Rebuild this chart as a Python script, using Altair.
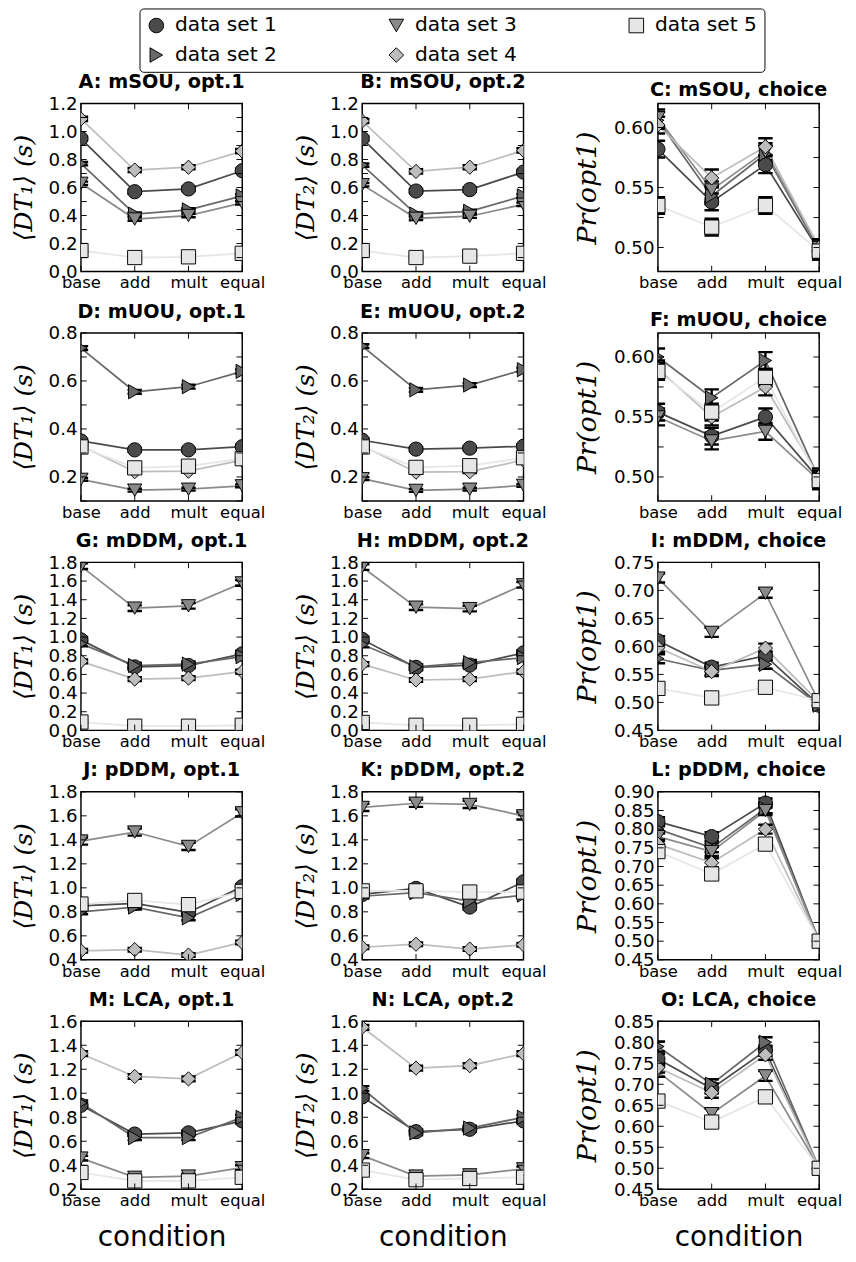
import altair as alt
import pandas as pd

conds = ["base", "add", "mult", "equal"]
series = ["data set 1", "data set 2", "data set 3", "data set 4", "data set 5"]
legend_order = ["data set 1", "data set 3", "data set 5", "data set 2", "data set 4"]
fill_of = {"data set 1": "#4a4a4a", "data set 2": "#686868", "data set 3": "#8a8a8a",
           "data set 4": "#bdbdbd", "data set 5": "#e6e6e6"}
shape_of = {"data set 1": "circle", "data set 2": "triangle-right", "data set 3": "triangle-down",
            "data set 4": "diamond", "data set 5": "square"}

# ---- values: each panel = 5 series (data set 1..5) x 4 conditions ----
A_mean = [[0.95, 0.57, 0.59, 0.72], [0.77, 0.41, 0.44, 0.54], [0.63, 0.375, 0.40, 0.49],
          [1.09, 0.725, 0.745, 0.86], [0.15, 0.10, 0.105, 0.13]]
A_err = [0.015, 0.012, 0.012, 0.015, 0.01]
B_mean = [[0.95, 0.575, 0.585, 0.71], [0.76, 0.41, 0.43, 0.54], [0.62, 0.38, 0.395, 0.48],
          [1.075, 0.715, 0.745, 0.865], [0.15, 0.10, 0.11, 0.13]]
B_err = [0.015, 0.012, 0.012, 0.015, 0.01]
C_mean = [[0.582, 0.538, 0.569, 0.497], [0.606, 0.543, 0.578, 0.498], [0.608, 0.548, 0.580, 0.500],
          [0.602, 0.558, 0.584, 0.500], [0.535, 0.517, 0.535, 0.497]]
C_err = [0.007, 0.007, 0.007, 0.007, 0.007]
D_mean = [[0.35, 0.313, 0.313, 0.326], [0.737, 0.555, 0.576, 0.64], [0.19, 0.145, 0.149, 0.163],
          [0.33, 0.222, 0.224, 0.27], [0.325, 0.238, 0.245, 0.276]]
D_err = [0.008, 0.008, 0.006, 0.006, 0.006]
E_mean = [[0.353, 0.316, 0.32, 0.328], [0.745, 0.563, 0.583, 0.647], [0.193, 0.144, 0.149, 0.165],
          [0.33, 0.22, 0.222, 0.27], [0.325, 0.24, 0.247, 0.28]]
E_err = [0.008, 0.008, 0.006, 0.006, 0.006]
F_mean = [[0.554, 0.534, 0.550, 0.498], [0.600, 0.566, 0.597, 0.498], [0.550, 0.530, 0.538, 0.497],
          [0.590, 0.550, 0.575, 0.500], [0.588, 0.554, 0.583, 0.497]]
F_err = [0.007, 0.007, 0.007, 0.007, 0.007]
G_mean = [[0.97, 0.68, 0.695, 0.82], [0.93, 0.695, 0.71, 0.79], [1.76, 1.31, 1.335, 1.58],
          [0.74, 0.55, 0.56, 0.63], [0.09, 0.045, 0.045, 0.055]]
G_err = [0.03, 0.03, 0.03, 0.02, 0.01]
H_mean = [[0.975, 0.675, 0.70, 0.83], [0.92, 0.68, 0.725, 0.78], [1.75, 1.32, 1.305, 1.56],
          [0.71, 0.54, 0.55, 0.63], [0.085, 0.055, 0.055, 0.065]]
H_err = [0.03, 0.03, 0.03, 0.02, 0.01]
I_mean = [[0.610, 0.563, 0.583, 0.495], [0.578, 0.557, 0.568, 0.495], [0.722, 0.625, 0.695, 0.500],
          [0.598, 0.555, 0.597, 0.500], [0.525, 0.508, 0.527, 0.503]]
I_err = [0.008, 0.008, 0.008, 0.008, 0.008]
J_mean = [[0.85, 0.87, 0.795, 1.01], [0.80, 0.84, 0.75, 0.945], [1.39, 1.465, 1.345, 1.625],
          [0.475, 0.485, 0.44, 0.545], [0.865, 0.895, 0.86, 0.97]]
J_err = [0.02, 0.02, 0.03, 0.015, 0.02]
K_mean = [[0.945, 0.995, 0.84, 1.05], [0.93, 0.96, 0.89, 0.94], [1.67, 1.705, 1.695, 1.60],
          [0.505, 0.53, 0.49, 0.525], [0.975, 0.975, 0.965, 0.965]]
K_err = [0.02, 0.02, 0.03, 0.015, 0.02]
L_mean = [[0.82, 0.78, 0.87, 0.50], [0.80, 0.75, 0.855, 0.50], [0.78, 0.74, 0.85, 0.50],
          [0.76, 0.71, 0.80, 0.50], [0.74, 0.68, 0.76, 0.50]]
L_err = [0.012, 0.012, 0.012, 0.012, 0.012]
M_mean = [[0.90, 0.66, 0.67, 0.77], [0.92, 0.63, 0.63, 0.80], [0.46, 0.30, 0.31, 0.38],
          [1.33, 1.14, 1.12, 1.34], [0.34, 0.27, 0.27, 0.30]]
M_err = [0.02, 0.02, 0.02, 0.02, 0.02]
N_mean = [[0.97, 0.68, 0.70, 0.77], [1.04, 0.67, 0.71, 0.80], [0.48, 0.31, 0.32, 0.37],
          [1.55, 1.21, 1.23, 1.33], [0.36, 0.28, 0.29, 0.30]]
N_err = [0.02, 0.02, 0.02, 0.02, 0.02]
O_mean = [[0.76, 0.69, 0.78, 0.50], [0.79, 0.70, 0.80, 0.50], [0.73, 0.63, 0.72, 0.50],
          [0.74, 0.68, 0.77, 0.50], [0.66, 0.61, 0.67, 0.50]]
O_err = [0.012, 0.012, 0.012, 0.012, 0.012]

# axis domains, labels and tick positions
dt_ticks_A = [0.0, 0.1, 0.2, 0.3, 0.4, 0.5, 0.6, 0.7, 0.8, 0.9, 1.0, 1.1, 1.2]
dt_labels_A = [0.0, 0.2, 0.4, 0.6, 0.8, 1.0, 1.2]
dt_ticks_D = [0.1, 0.2, 0.3, 0.4, 0.5, 0.6, 0.7, 0.8]
dt_labels_D = [0.2, 0.4, 0.6, 0.8]
ch_ticks_C = [0.5, 0.525, 0.55, 0.575, 0.6]
ch_labels_C = [0.50, 0.55, 0.60]
dt_labels_G = [0.0, 0.2, 0.4, 0.6, 0.8, 1.0, 1.2, 1.4, 1.6, 1.8]
ch_labels_I = [0.45, 0.50, 0.55, 0.60, 0.65, 0.70, 0.75]
dt_labels_J = [0.4, 0.6, 0.8, 1.0, 1.2, 1.4, 1.6, 1.8]
ch_labels_L = [0.45, 0.50, 0.55, 0.60, 0.65, 0.70, 0.75, 0.80, 0.85, 0.90]
dt_labels_M = [0.2, 0.4, 0.6, 0.8, 1.0, 1.2, 1.4, 1.6]
ch_labels_O = [0.45, 0.50, 0.55, 0.60, 0.65, 0.70, 0.75, 0.80, 0.85]

DT1 = "⟨DT₁⟩ (s)"
DT2 = "⟨DT₂⟩ (s)"
PR = "Pr(opt1)"

panels = [
    ("A: mSOU, opt.1", DT1, [0, 1.2], dt_labels_A, dt_ticks_A, ".1f", A_mean, A_err),
    ("B: mSOU, opt.2", DT2, [0, 1.2], dt_labels_A, dt_ticks_A, ".1f", B_mean, B_err),
    ("C: mSOU, choice", PR, [0.48, 0.62], ch_labels_C, ch_ticks_C, ".2f", C_mean, C_err),
    ("D: mUOU, opt.1", DT1, [0.1, 0.8], dt_labels_D, dt_ticks_D, ".1f", D_mean, D_err),
    ("E: mUOU, opt.2", DT2, [0.1, 0.8], dt_labels_D, dt_ticks_D, ".1f", E_mean, E_err),
    ("F: mUOU, choice", PR, [0.48, 0.62], ch_labels_C, ch_ticks_C, ".2f", F_mean, F_err),
    ("G: mDDM, opt.1", DT1, [0, 1.8], dt_labels_G, dt_labels_G, ".1f", G_mean, G_err),
    ("H: mDDM, opt.2", DT2, [0, 1.8], dt_labels_G, dt_labels_G, ".1f", H_mean, H_err),
    ("I: mDDM, choice", PR, [0.45, 0.75], ch_labels_I, ch_labels_I, ".2f", I_mean, I_err),
    ("J: pDDM, opt.1", DT1, [0.4, 1.8], dt_labels_J, dt_labels_J, ".1f", J_mean, J_err),
    ("K: pDDM, opt.2", DT2, [0.4, 1.8], dt_labels_J, dt_labels_J, ".1f", K_mean, K_err),
    ("L: pDDM, choice", PR, [0.45, 0.90], ch_labels_L, ch_labels_L, ".2f", L_mean, L_err),
    ("M: LCA, opt.1", DT1, [0.2, 1.6], dt_labels_M, dt_labels_M, ".1f", M_mean, M_err),
    ("N: LCA, opt.2", DT2, [0.2, 1.6], dt_labels_M, dt_labels_M, ".1f", N_mean, N_err),
    ("O: LCA, choice", PR, [0.45, 0.85], ch_labels_O, ch_labels_O, ".2f", O_mean, O_err),
]

W, H = 168, 175
TK = 6

color_scale = alt.Scale(domain=legend_order, range=[fill_of[s] for s in legend_order])
shape_scale = alt.Scale(domain=legend_order, range=[shape_of[s] for s in legend_order])
# line colours: separate scale (domain in natural order) so its hidden legend stays separate
stroke_scale = alt.Scale(domain=series, range=[fill_of[s] for s in series])

leg = alt.Legend(title=None, orient="none", legendX=61, legendY=-99, direction="horizontal",
                 columns=3, columnPadding=113, rowPadding=9, labelFontSize=21,
                 symbolStrokeColor="black", symbolStrokeWidth=1, symbolSize=230,
                 strokeColor="black", padding=7, cornerRadius=4, fillColor="white",
                 labelLimit=300, labelOffset=9)


def make_panel(title, ytitle, dom, labels, ticks, fmt, means, errs, bottom):
    rows = []
    for s, vals, e in zip(series, means, errs):
        for c, v in zip(conds, vals):
            rows.append({"cond": c, "series": s, "mean": v, "lo": v - e, "hi": v + e})
    df = pd.DataFrame(rows)

    choice = fmt == ".2f"
    xs = alt.Scale(type="point", domain=conds, padding=0)
    ys = alt.Scale(domain=dom, nice=False, zero=False)
    xax = alt.Axis(title="condition" if bottom else None, labelAngle=0)
    yax = alt.Axis(title=ytitle, values=labels, format=fmt, labelOverlap=False,
                   minExtent=(53 if choice else 40), maxExtent=(53 if choice else 40),
                   titleFontSize=(28 if choice else 26))

    X = alt.X("cond:N", scale=xs, axis=xax, sort=conds)
    base = alt.Chart(df)

    def Y(field):
        return alt.Y(field, scale=ys, axis=yax)

    lines = base.mark_line(strokeWidth=1.8, clip=True).encode(
        x=X, y=Y("mean:Q"),
        stroke=alt.Stroke("series:N", scale=stroke_scale, legend=None),
        detail="series:N")
    bars = base.mark_rule(color="black", strokeWidth=2.5, clip=True).encode(
        x=X, y=Y("lo:Q"), y2="hi:Q")
    cap_lo = base.mark_tick(color="black", thickness=2.5, size=15, clip=True, opacity=1).encode(
        x=X, y=Y("lo:Q"))
    cap_hi = base.mark_tick(color="black", thickness=2.5, size=15, clip=True, opacity=1).encode(
        x=X, y=Y("hi:Q"))
    pts = base.mark_point(filled=True, stroke="black", strokeWidth=1, opacity=1, size=220,
                          clip=True).encode(
        x=X, y=Y("mean:Q"),
        color=alt.Color("series:N", scale=color_scale, legend=leg),
        shape=alt.Shape("series:N", scale=shape_scale, legend=leg))

    tdf = pd.DataFrame({"v": ticks})
    yt_l = alt.Chart(tdf).mark_rule(color="black", strokeWidth=1).encode(
        y=Y("v:Q"), x=alt.value(0), x2=alt.value(TK))
    yt_r = alt.Chart(tdf).mark_rule(color="black", strokeWidth=1).encode(
        y=Y("v:Q"), x=alt.value(W - TK), x2=alt.value(W))
    cdf = pd.DataFrame({"cond": conds})
    xt_b = alt.Chart(cdf).mark_rule(color="black", strokeWidth=1).encode(
        x=X, y=alt.value(H - TK), y2=alt.value(H))
    xt_t = alt.Chart(cdf).mark_rule(color="black", strokeWidth=1).encode(
        x=X, y=alt.value(0), y2=alt.value(TK))

    return alt.layer(lines, bars, cap_lo, cap_hi, pts, yt_l, yt_r, xt_b, xt_t).properties(
        width=W, height=H,
        title=alt.TitleParams(title, fontSize=20, fontWeight="bold", font="DejaVu Sans",
                              offset=3, anchor="middle", color="black"))


charts = [make_panel(*p, bottom=(i >= 12)) for i, p in enumerate(panels)]
chart = alt.concat(*charts, columns=3, spacing={"row": 10, "column": 27}).properties(
    padding={"left": 3, "top": -27, "right": 5, "bottom": 2}
).configure(
    font="DejaVu Sans"
).configure_view(
    stroke="black", strokeWidth=1.5
).configure_axis(
    labelColor="black", titleColor="black", domain=False, ticks=False, grid=False
).configure_axisX(
    labelFontSize=17, labelPadding=4, titleFontSize=29, titleFontWeight="normal",
    titlePadding=16, labelAngle=0
).configure_axisY(
    labelFontSize=19, labelPadding=4, labelOverlap=False, titleFont="DejaVu Serif",
    titleFontStyle="italic", titleFontWeight="normal", titlePadding=6
)

chart.save("out.html", embed_options={"renderer": "svg", "actions": False})
